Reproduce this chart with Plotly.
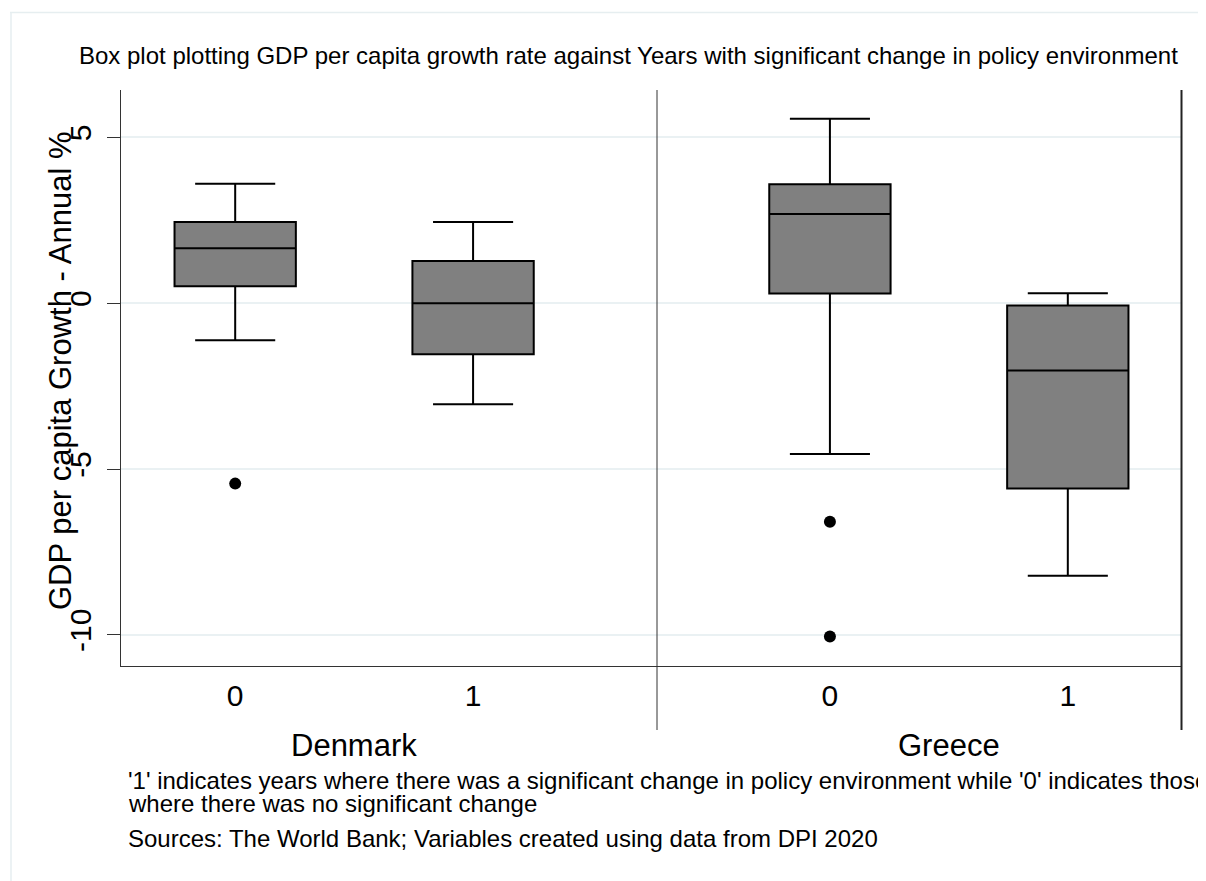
import plotly.graph_objects as go

# ---- data ----
countries = ["Denmark", "Greece"]
policy_change = ["0", "1"]
lower_whisker = [-1.12, -3.05, -4.55, -8.22]
q1_vals = [0.51, -1.54, 0.29, -5.59]
median_vals = [1.66, 0.00, 2.69, -2.03]
q3_vals = [2.45, 1.27, 3.59, -0.07]
upper_whisker = [3.60, 2.45, 5.56, 0.30]
outlier_group = [0, 2, 2]          # index of the box each outlier belongs to
outlier_vals = [-5.44, -6.59, -10.05]
y_ticks = [-10, -5, 0, 5]

title_text = "Box plot plotting GDP per capita growth rate against Years with significant change in policy environment"
y_title = "GDP per capita Growth - Annual %"
note_lines = ["'1' indicates years where there was a significant change in policy environment while '0' indicates those",
              "where there was no significant change"]
source_text = "Sources: The World Bank; Variables created using data from DPI 2020"

# ---- layout geometry (window pixel coordinates; page body has an 8px margin) ----
OFF = 8
W, H = 1206 - OFF, 881 - OFF
L, R, T, B = 121, 1182, 90, 666
GROUP_GAP = 2.5
FONT = "Arial, Liberation Sans, sans-serif"

def px_x(p):
    return (p - L) / (R - L)

def px_y(p):
    return (B - p) / (B - T)

# x positions derived from group / category index
xpos = []
xlabels = []
for gi, c in enumerate(countries):
    for ci, p in enumerate(policy_change):
        xpos.append(gi * GROUP_GAP + ci)
        xlabels.append(p)
out_x = [xpos[i] for i in outlier_group]

fig = go.Figure()
fig.add_trace(go.Box(
    x=xpos, q1=q1_vals, median=median_vals, q3=q3_vals,
    lowerfence=lower_whisker, upperfence=upper_whisker,
    width=0.51, whiskerwidth=0.66,
    fillcolor="#808080", line=dict(color="black", width=2),
    boxpoints=False, hoverinfo="skip", showlegend=False,
))
fig.add_trace(go.Scatter(
    x=out_x, y=outlier_vals, mode="markers",
    marker=dict(color="black", size=12), showlegend=False, hoverinfo="skip",
))

shapes = [
    # outer light frame
    dict(type="line", xref="paper", yref="paper", x0=px_x(10), x1=px_x(1210), y0=px_y(12.5), y1=px_y(12.5),
         line=dict(color="#e6eef0", width=1.5)),
    dict(type="line", xref="paper", yref="paper", x0=px_x(11), x1=px_x(11), y0=px_y(12), y1=px_y(890),
         line=dict(color="#e6eef0", width=1.5)),
    # divider between groups and right border
    dict(type="line", xref="paper", yref="paper", x0=px_x(657), x1=px_x(657), y0=px_y(T), y1=px_y(730),
         line=dict(color="#333333", width=1)),
    dict(type="line", xref="paper", yref="paper", x0=px_x(1181.5), x1=px_x(1181.5), y0=px_y(T), y1=px_y(730),
         line=dict(color="#222222", width=2)),
]

annotations = []
for gi, c in enumerate(countries):
    annotations.append(dict(
        text=c, xref="x", yref="paper", x=gi * GROUP_GAP + 0.5, y=px_y(745),
        xanchor="center", yanchor="middle", showarrow=False,
        font=dict(family=FONT, size=31, color="black")))
for i, line in enumerate(note_lines):
    annotations.append(dict(
        text=line, xref="paper", yref="paper", x=px_x(126), y=px_y(780 + 23 * i),
        xanchor="left", yanchor="middle", showarrow=False,
        font=dict(family=FONT, size=24, color="black")))
annotations.append(dict(
    text=source_text, xref="paper", yref="paper", x=px_x(126), y=px_y(838),
    xanchor="left", yanchor="middle", showarrow=False,
    font=dict(family=FONT, size=24, color="black")))
annotations.append(dict(
    text=title_text, xref="paper", yref="paper", x=px_x(628), y=px_y(55),
    xanchor="center", yanchor="middle", showarrow=False,
    font=dict(family=FONT, size=24, color="black")))
annotations.append(dict(
    text=y_title, xref="paper", yref="paper", x=px_x(60), y=px_y(371),
    xanchor="center", yanchor="middle", textangle=-90, showarrow=False,
    font=dict(family=FONT, size=31, color="black")))

fig.update_layout(
    width=W, height=H, autosize=False,
    margin=dict(l=L - OFF, r=W - (R - OFF), t=T - OFF, b=H - (B - OFF)),
    paper_bgcolor="white", plot_bgcolor="white",
    shapes=shapes, annotations=annotations,
    font=dict(family=FONT, color="black"),
)
fig.update_xaxes(
    range=[-0.48, 3.98], tickvals=xpos, ticktext=xlabels,
    showgrid=False, zeroline=False, showline=True, linecolor="#333333", linewidth=1,
    ticks="", tickfont=dict(family=FONT, size=30, color="black"), ticklabelstandoff=3,
    fixedrange=True,
)
fig.update_yaxes(
    range=[-10.94, 6.43], tickvals=y_ticks, ticktext=[str(v) for v in y_ticks],
    tickangle=-90, ticks="outside", ticklen=13, tickcolor="#333333", tickwidth=1,
    showgrid=True, gridcolor="#eaf1f3", gridwidth=1.5, zeroline=False,
    showline=True, linecolor="#333333", linewidth=1,
    tickfont=dict(family=FONT, size=30, color="black"), ticklabelstandoff=4,
    fixedrange=True,
)

fig.write_html("out.html")
